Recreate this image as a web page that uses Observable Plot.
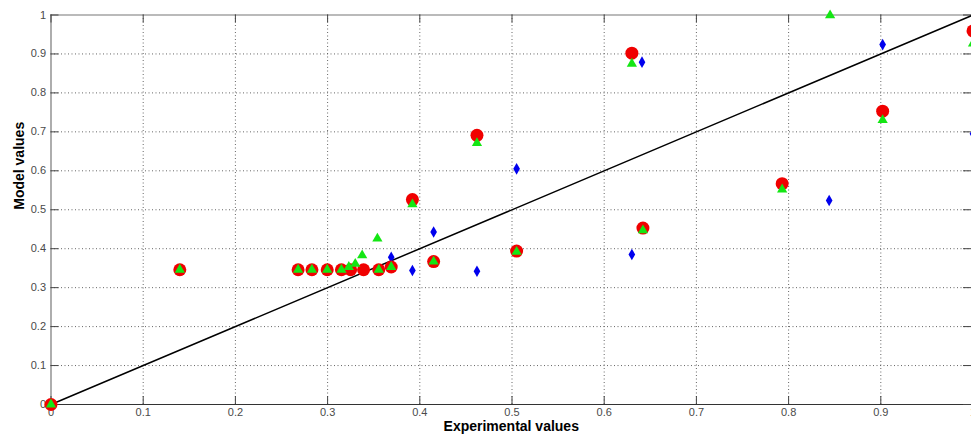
<!DOCTYPE html>
<html><head><meta charset="utf-8">
<script src="https://cdn.jsdelivr.net/npm/d3@7"></script>
<script src="https://cdn.jsdelivr.net/npm/@observablehq/plot@0.6"></script>
<style>body{margin:0;background:#fff}</style>
</head><body><div id="chart"></div>
<script>
// Series: red circles
const redX = [0, 0.1397, 0.268, 0.283, 0.2996, 0.315, 0.325, 0.339, 0.3555, 0.369, 0.392, 0.415, 0.462, 0.505, 0.630, 0.642, 0.793, 0.902, 1.0];
const redY = [0, 0.346, 0.346, 0.346, 0.346, 0.346, 0.346, 0.346, 0.346, 0.353, 0.526, 0.367, 0.691, 0.394, 0.902, 0.453, 0.567, 0.753, 0.959];
// Series: green triangles
const greenX = [0, 0.1397, 0.268, 0.283, 0.2996, 0.315, 0.323, 0.330, 0.3375, 0.354, 0.3555, 0.369, 0.392, 0.415, 0.462, 0.505, 0.630, 0.642, 0.793, 0.845, 0.902, 1.0];
const greenY = [0, 0.346, 0.346, 0.346, 0.346, 0.346, 0.353, 0.361, 0.383, 0.426, 0.346, 0.353, 0.514, 0.367, 0.671, 0.392, 0.875, 0.447, 0.552, 0.999, 0.730, 0.927];
// Series: blue diamonds
const blueX = [0, 0.369, 0.392, 0.415, 0.462, 0.505, 0.630, 0.641, 0.844, 0.902, 1.0];
const blueY = [0, 0.378, 0.344, 0.443, 0.342, 0.605, 0.385, 0.879, 0.524, 0.924, 0.695];
// Identity line
const diagX = [0, 1];
const diagY = [0, 1];
// Ticks
const ticks = [0, 0.1, 0.2, 0.3, 0.4, 0.5, 0.6, 0.7, 0.8, 0.9, 1];
const tickLabels = ["0", "0.1", "0.2", "0.3", "0.4", "0.5", "0.6", "0.7", "0.8", "0.9", "1"];
const xLabel = "Experimental values";
const yLabel = "Model values";

const toPts = (xs, ys) => xs.map((x, i) => ({x, y: ys[i]}));
const red = toPts(redX, redY), green = toPts(greenX, greenY), blue = toPts(blueX, blueY), diag = toPts(diagX, diagY);
const grid = ticks.filter(t => t > 0 && t < 1);

const W = 971, H = 441, mL = 50.5, mT = 14.5, mB = 37;
const pxPerX = 922, pxPerY = (H - mB - mT);
const xMax = (W - mL) / pxPerX;
const tl = 8;
const tx = tl / pxPerX, ty = tl / pxPerY;
const fmt = d => tickLabels[ticks.indexOf(d)];

const chart = Plot.plot({
  width: W, height: H,
  marginLeft: mL, marginRight: 0, marginTop: mT, marginBottom: mB,
  x: {domain: [0, xMax], axis: null},
  y: {domain: [0, 1], axis: null},
  style: {fontFamily: "Arial, 'Liberation Sans', sans-serif", fontSize: "11px", color: "#4a4a4a", background: "#fff", overflow: "hidden"},
  marks: [
    Plot.ruleX(grid, {x: d => d, stroke: "#555", strokeWidth: 1, strokeDasharray: "1,2.5", strokeOpacity: 0.9}),
    Plot.ruleY(grid, {y: d => d, stroke: "#555", strokeWidth: 1, strokeDasharray: "1,2.5", strokeOpacity: 0.9}),
    // box
    Plot.ruleX([0], {x: d => d, stroke: "#777", strokeWidth: 1.2}),
    Plot.ruleY([1], {y: d => d, stroke: "#777", strokeWidth: 1.2}),
    Plot.ruleY([0], {y: d => d, stroke: "#333", strokeWidth: 1.2}),
    // inward ticks
    Plot.ruleY(ticks, {y: d => d, x1: 0, x2: tx, stroke: "#444"}),
    Plot.ruleY(ticks, {y: d => d, x1: xMax - tx, x2: xMax, stroke: "#444"}),
    Plot.ruleX(ticks, {x: d => d, y1: 0, y2: ty, stroke: "#444"}),
    Plot.ruleX(ticks, {x: d => d, y1: 1 - ty, y2: 1, stroke: "#444"}),
    Plot.axisX({ticks, tickFormat: fmt, tickSize: 0, tickPadding: 4, label: null, fill: "#4a4a4a"}),
    Plot.axisY({ticks, tickFormat: fmt, tickSize: 0, tickPadding: 5, label: null, fill: "#4a4a4a"}),
    // identity line
    Plot.line(diag, {x: "x", y: "y", stroke: "#000", strokeWidth: 1.5}),
    // series
    Plot.dot(blue, {x: "x", y: "y", symbol: "diamond", r: 3.5, fill: "#0000ee", stroke: "none"}),
    Plot.dot(red, {x: "x", y: "y", symbol: "circle", r: 6.5, fill: "#f00000", stroke: "none"}),
    Plot.dot(green, {x: "x", y: "y", symbol: "triangle", r: 3.8, fill: "#14e614", stroke: "none"}),
    // axis titles
    Plot.text([xLabel], {text: d => d, frameAnchor: "bottom", dy: 26, fontWeight: "bold", fontSize: 14, fill: "#000"}),
    Plot.text([yLabel], {text: d => d, frameAnchor: "left", dx: -31, rotate: -90, fontWeight: "bold", fontSize: 14, fill: "#000"})
  ]
});
document.getElementById("chart").appendChild(chart);
</script>
</body></html>
